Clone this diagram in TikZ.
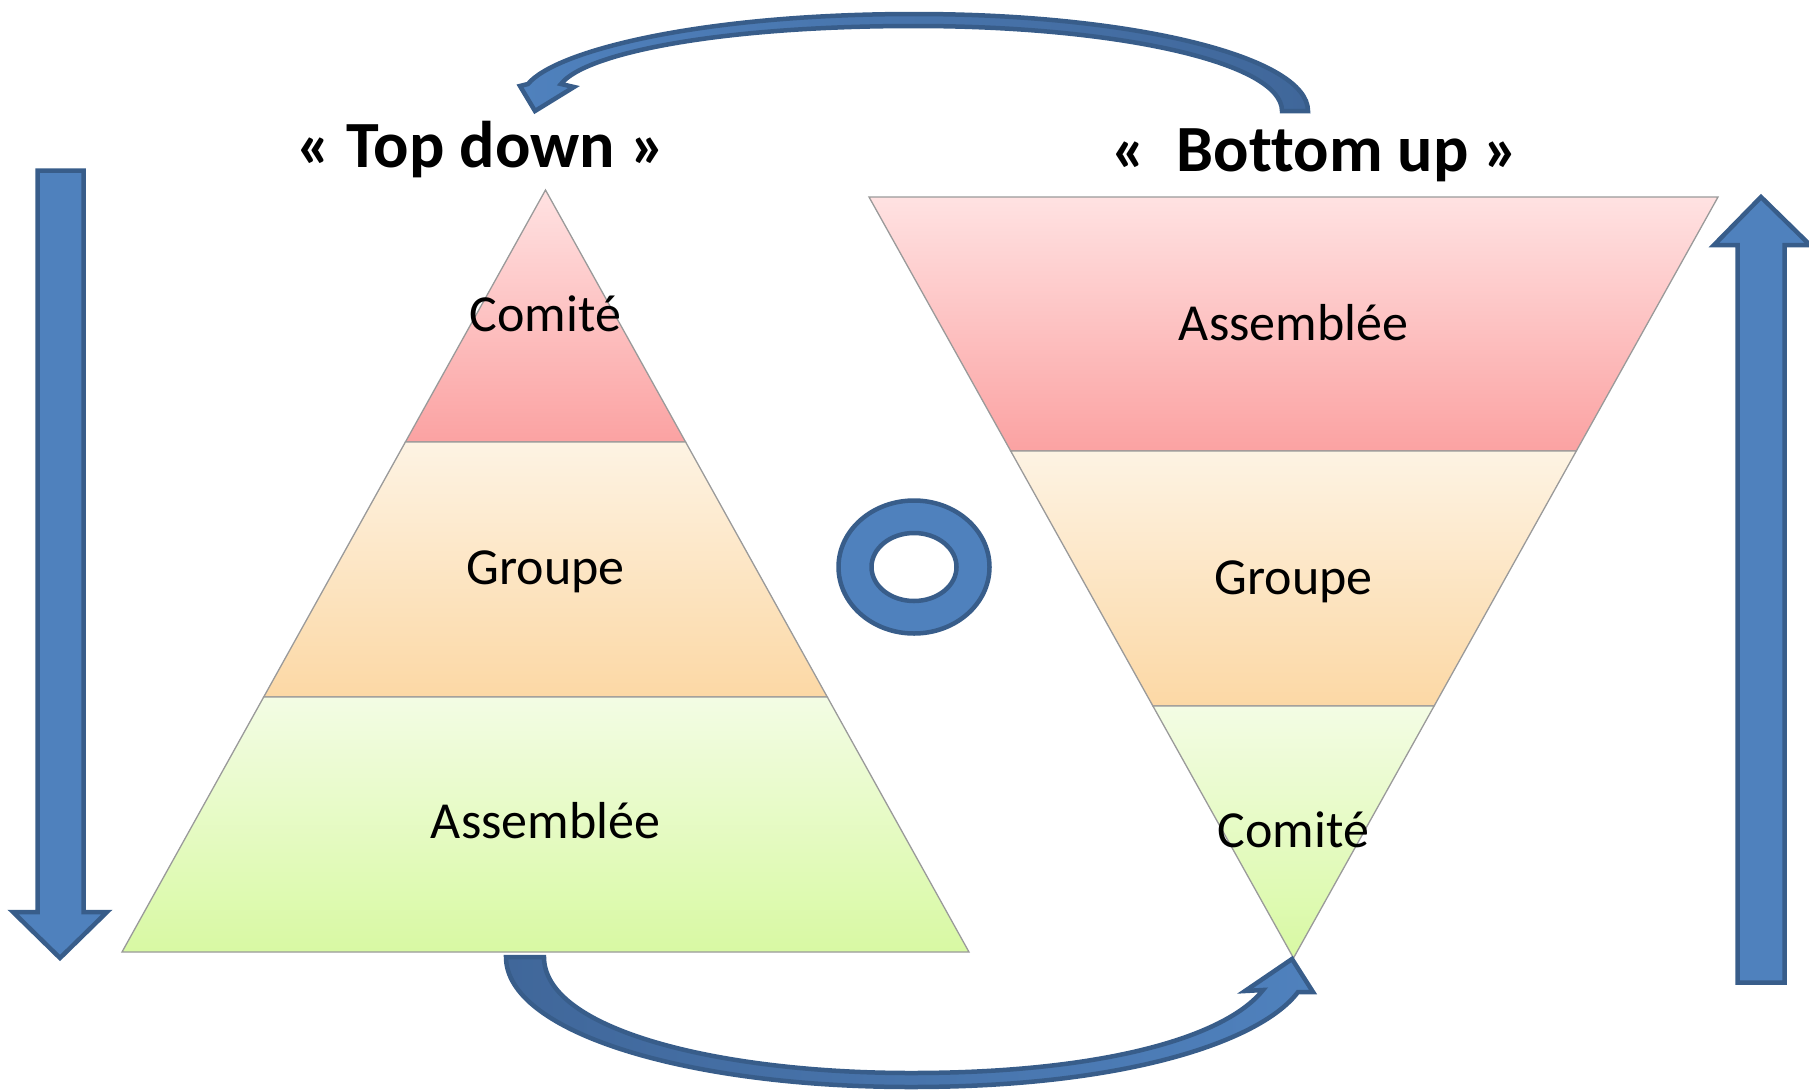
\documentclass[tikz,border=0pt]{standalone}
\usepackage{fontspec}
\setmainfont{Carlito}[Ligatures={NoCommon}]
\definecolor{arrowfill}{HTML}{4F81BD}
\definecolor{arrowline}{HTML}{385D8A}
\definecolor{arrowdark}{HTML}{40679A}
\definecolor{redtop}{HTML}{FFE2E2}
\definecolor{redbot}{HTML}{FBA2A2}
\definecolor{orgtop}{HTML}{FDF3E3}
\definecolor{orgbot}{HTML}{FCD8A5}
\definecolor{grntop}{HTML}{F3FCE4}
\definecolor{grnbot}{HTML}{D8F9A3}
\definecolor{edgegray}{HTML}{9A9A9A}
\begin{document}
\begin{tikzpicture}[x=1pt,y=-1pt,
  band/.style={draw=edgegray,line width=1.3pt,line join=miter},
  blockarrow/.style={fill=arrowfill,draw=arrowline,line width=4.5pt,line join=miter},
  lbl/.style={font=\fontsize{52}{60}\selectfont,anchor=base,inner sep=0pt},
  ttl/.style={font=\bfseries\fontsize{66}{76}\selectfont,anchor=base,inner sep=0pt}]
\useasboundingbox (0,0) rectangle (1809,1090);

% ---------- left pyramid (Top down) ----------
\path[band,top color=redtop,bottom color=redbot]
  (545.5,190) -- (685.6,442) -- (405.4,442) -- cycle;
\path[band,top color=orgtop,bottom color=orgbot]
  (405.4,442) -- (685.6,442) -- (827.3,697) -- (263.7,697) -- cycle;
\path[band,top color=grntop,bottom color=grnbot]
  (263.7,697) -- (827.3,697) -- (969,952) -- (122,952) -- cycle;
\node[lbl] (lcom) at (545.5,331) {Comité};
\node[lbl] (lgrp) at (545.5,584) {Groupe};
\node[lbl] (lass) at (545.5,838) {Assemblée};

% ---------- right inverted pyramid (Bottom up) ----------
\path[band,top color=redtop,bottom color=redbot]
  (869,197) -- (1718,197) -- (1576.3,451) -- (1010.7,451) -- cycle;
\path[band,top color=orgtop,bottom color=orgbot]
  (1010.7,451) -- (1576.3,451) -- (1434.1,706) -- (1152.9,706) -- cycle;
\path[band,top color=grntop,bottom color=grnbot]
  (1152.9,706) -- (1434.1,706) -- (1293.5,958) -- cycle;
\node[lbl] (rass) at (1293.5,340) {Assemblée};
\node[lbl] (rgrp) at (1293.5,594) {Groupe};
\node[lbl] (rcom) at (1293.5,847) {Comité};

% ---------- titles ----------
\node[ttl] (tdtitle) at (481,167) {« Top down »};
\node[ttl] (butitle) at (1315,171) {«~~Bottom up »};

% ---------- straight block arrows ----------
\path[blockarrow]
  (37.5,170.5) -- (83.5,170.5) -- (83.5,912) -- (107,912) -- (60,958)
  -- (13,912) -- (37.5,912) -- cycle;
\path[blockarrow]
  (1737.5,982.5) -- (1784.5,982.5) -- (1784.5,245) -- (1810,245)
  -- (1761,197) -- (1714,245) -- (1737.5,245) -- cycle;

% ---------- ring ----------
\path[blockarrow,even odd rule]
  (914,567) ellipse [x radius=75.5, y radius=66.5]
  (914,567) ellipse [x radius=42.5, y radius=34];

% ---------- curved arrows ----------
\path[blockarrow,left color=arrowfill,right color=arrowdark]
  (1308,111) .. controls (1308,57) and (1133,14) .. (915,14)
  .. controls (700,14) and (555,51) .. (528,84)
  -- (520,86) -- (535,111) -- (574,87) -- (561,84)
  .. controls (585,53) and (720,26) .. (915,26)
  .. controls (1115,26) and (1282,62) .. (1282,111)
  -- cycle;
\path[blockarrow,left color=arrowdark,right color=arrowfill]
  (506,957) .. controls (506,1032) and (686,1087) .. (911,1087)
  .. controls (1130,1087) and (1262,1040) .. (1298,992)
  -- (1313,992) -- (1292,959) -- (1245,991) -- (1263,990)
  .. controls (1225,1038) and (1100,1073) .. (911,1073)
  .. controls (720,1073) and (544,1030) .. (544,957)
  -- cycle;
\end{tikzpicture}
\end{document}
